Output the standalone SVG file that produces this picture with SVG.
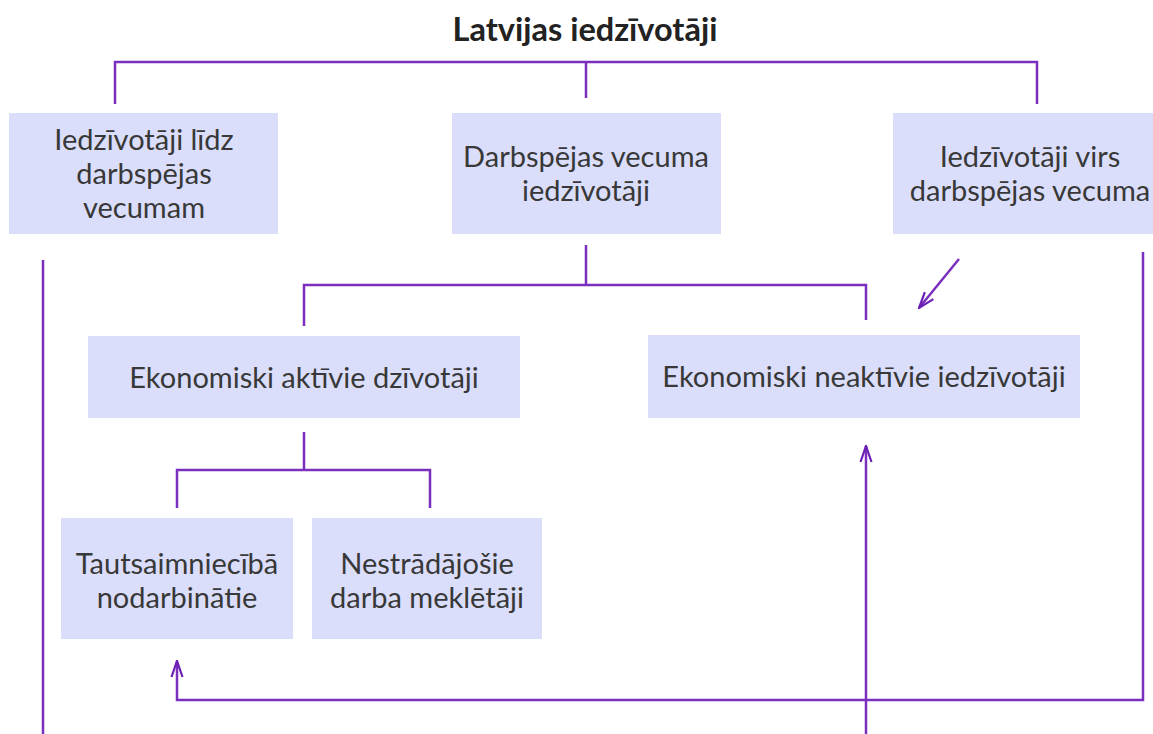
<svg xmlns="http://www.w3.org/2000/svg" width="1153" height="734" viewBox="0 0 1153 734">
<defs>
<style>
.box{fill:#dadefb;}
.t{font-family:Lato,"Liberation Sans",sans-serif;font-size:29px;fill:#383838;text-anchor:middle;}
.title{font-family:Lato,"Liberation Sans",sans-serif;font-size:32.5px;font-weight:bold;fill:#222;text-anchor:middle;}
.c{fill:none;stroke:#7b2fbf;stroke-width:2.5;}
</style>
<marker id="ah" viewBox="0 0 18 14" refX="17" refY="7" markerWidth="18" markerHeight="14" markerUnits="userSpaceOnUse" orient="auto">
<path d="M1,1.5 L17,7 L1,12.5" fill="none" stroke="#6a1fb5" stroke-width="2.2"/>
</marker>
</defs>
<rect width="1153" height="734" fill="#fff"/>
<text class="title" x="585" y="41">Latvijas iedzīvotāji</text>
<g id="connectors">
<path class="c" d="M115,104 V62 H1037 V104"/>
<path class="c" d="M586,62 V98"/>
<path class="c" d="M586,245 V285 M304,326 V285 H866 V320"/>
<path class="c" d="M304,432 V470 M177,508 V470 H430 V508"/>
<path class="c" d="M43,260 V734"/>
<path class="c" d="M1143,252 V700 H177 V661" marker-end="url(#ah)"/>
<path class="c" d="M866,734 V446" marker-end="url(#ah)"/>
<path class="c" d="M959,259 L919,308" marker-end="url(#ah)"/>
</g>
<g id="n1"><rect class="box" x="9" y="113" width="269" height="121"/>
<text class="t" x="144" y="150">Iedzīvotāji līdz</text><text class="t" x="144" y="184">darbspējas</text><text class="t" x="144" y="218">vecumam</text></g>
<g id="n2"><rect class="box" x="452" y="113" width="269" height="121"/>
<text class="t" x="586" y="167">Darbspējas vecuma</text><text class="t" x="586" y="201">iedzīvotāji</text></g>
<g id="n3"><rect class="box" x="893" y="113" width="270" height="121"/>
<text class="t" x="1030" y="167">Iedzīvotāji virs</text><text class="t" x="1030" y="201">darbspējas vecuma</text></g>
<g id="n4"><rect class="box" x="88" y="336" width="432" height="82"/>
<text class="t" x="304" y="388">Ekonomiski aktīvie dzīvotāji</text></g>
<g id="n5"><rect class="box" x="648" y="335" width="432" height="83"/>
<text class="t" x="864" y="387">Ekonomiski neaktīvie iedzīvotāji</text></g>
<g id="n6"><rect class="box" x="61" y="518" width="232" height="121"/>
<text class="t" x="177" y="574">Tautsaimniecībā</text><text class="t" x="177" y="608">nodarbinātie</text></g>
<g id="n7"><rect class="box" x="312" y="518" width="230" height="121"/>
<text class="t" x="427" y="574">Nestrādājošie</text><text class="t" x="427" y="608">darba meklētāji</text></g>
</svg>
